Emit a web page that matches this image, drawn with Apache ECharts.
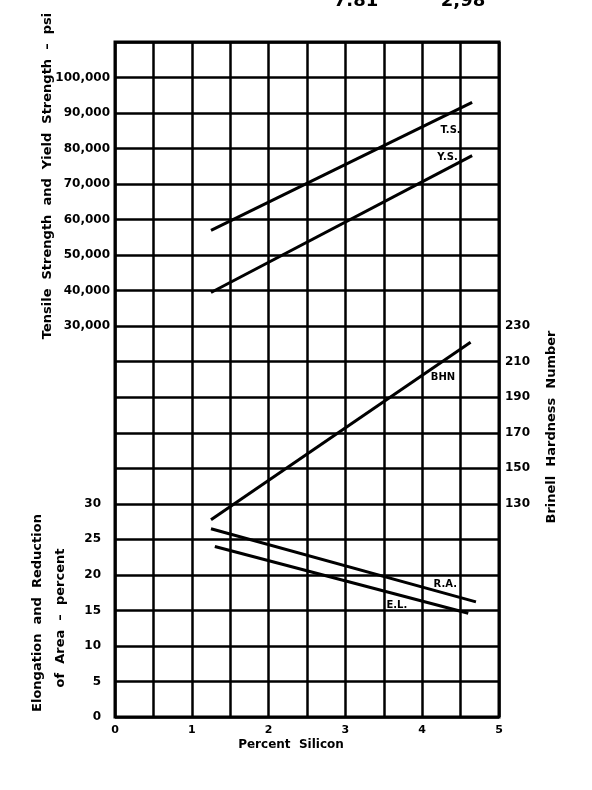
<!DOCTYPE html>
<html>
<head>
<meta charset="utf-8">
<script src="https://cdn.jsdelivr.net/npm/echarts@6/dist/echarts.min.js"></script>
<style>
html,body{margin:0;padding:0;background:#fff;}
#c{width:592px;height:790px;}
</style>
</head>
<body>
<div id="c"></div>
<script>
// ---- data ----
const silicon = [1.25, 4.65];
const tensileStrength = [57000, 93000];
const yieldStrength = [39500, 78000];
const bhnSilicon = [1.25, 4.63];
const brinell = [121, 221];
const raSilicon = [1.25, 4.7];
const reductionArea = [26.5, 16.2];
const elSilicon = [1.3, 4.6];
const elongation = [24, 14.6];
const xTicks = [0, 1, 2, 3, 4, 5];
const psiTicks = [30000, 40000, 50000, 60000, 70000, 80000, 90000, 100000];
const pctTicks = [0, 5, 10, 15, 20, 25, 30];
const bhnTicks = [130, 150, 170, 190, 210, 230];
const curveLabels = [
  {text: 'T.S.', x: 4.37, y: 85000, axis: 0},
  {text: 'Y.S.', x: 4.33, y: 77500, axis: 0},
  {text: 'BHN', x: 4.27, y: 201, axis: 2},
  {text: 'R.A.', x: 4.3, y: 18.6, axis: 1},
  {text: 'E.L.', x: 3.67, y: 15.7, axis: 1}
];

const FONT = 'DejaVu Sans';
const pair = (xs, ys) => xs.map((x, i) => [x, ys[i]]);
const tickFmt = (ticks, f) => v => ticks.includes(v) ? f(v) : '';

const chart = echarts.init(document.getElementById('c'), null, {renderer: 'canvas'});
const lineStyle = {color: '#000', width: 3};
const mkLine = (name, data, yi) => ({
  name, type: 'line', yAxisIndex: yi, data, symbol: 'none',
  lineStyle, silent: true, animation: false, z: 3
});

const labelSeries = [0, 1, 2].map(ai => ({
  type: 'scatter', yAxisIndex: ai, symbolSize: 0, animation: false, silent: true, z: 6,
  itemStyle: {color: '#000'},
  data: curveLabels.filter(l => l.axis === ai).map(l => ({value: [l.x, l.y], name: l.text})),
  label: {show: true, position: 'inside', formatter: p => p.name,
    fontFamily: FONT, fontWeight: 'bold', fontSize: 10, color: '#000',
    textBorderWidth: 0, textShadowBlur: 0, opacity: 1}
}));

const titleStyle = (text, size) => ({text, fontFamily: FONT, fontWeight: 'bold', fontSize: size,
  fill: '#000', textAlign: 'center', textVerticalAlign: 'middle'});

chart.setOption({
  backgroundColor: '#fff',
  animation: false,
  grid: {left: 115, right: 93, top: 42, bottom: 73, show: true,
    borderColor: '#000', borderWidth: 3, backgroundColor: 'transparent'},
  xAxis: {
    type: 'value', min: 0, max: 5, interval: 0.5,
    axisLine: {show: false}, axisTick: {show: false},
    splitLine: {show: true, lineStyle: {color: '#000', width: 2.5}},
    axisLabel: {formatter: tickFmt(xTicks, v => String(v)), fontFamily: FONT,
      fontWeight: 'bold', fontSize: 11, color: '#000', margin: 8}
  },
  yAxis: [
    {type: 'value', position: 'left', min: -80000, max: 110000, interval: 10000,
      axisLine: {show: false}, axisTick: {show: false},
      splitLine: {show: true, lineStyle: {color: '#000', width: 2.5}},
      axisLabel: {formatter: tickFmt(psiTicks, v => v.toLocaleString('en-US')),
        fontFamily: FONT, fontWeight: 'bold', fontSize: 12, color: '#000', margin: 5}},
    {type: 'value', position: 'left', min: 0, max: 95, interval: 5,
      axisLine: {show: false}, axisTick: {show: false}, splitLine: {show: false},
      axisLabel: {formatter: tickFmt(pctTicks, v => String(v)),
        fontFamily: FONT, fontWeight: 'bold', fontSize: 12, color: '#000', margin: 14}},
    {type: 'value', position: 'right', min: 10, max: 390, interval: 20,
      axisLine: {show: false}, axisTick: {show: false}, splitLine: {show: false},
      axisLabel: {formatter: tickFmt(bhnTicks, v => String(v)),
        fontFamily: FONT, fontWeight: 'bold', fontSize: 12, color: '#000', margin: 6}}
  ],
  series: [
    mkLine('T.S.', pair(silicon, tensileStrength), 0),
    mkLine('Y.S.', pair(silicon, yieldStrength), 0),
    mkLine('BHN', pair(bhnSilicon, brinell), 2),
    mkLine('R.A.', pair(raSilicon, reductionArea), 1),
    mkLine('E.L.', pair(elSilicon, elongation), 1),
    ...labelSeries
  ],
  graphic: [
    {type: 'text', x: 48, y: 176, rotation: Math.PI / 2,
      style: titleStyle('Tensile  Strength  and  Yield  Strength  \u2013  psi', 13)},
    {type: 'text', x: 38, y: 613, rotation: Math.PI / 2,
      style: titleStyle('Elongation  and  Reduction', 13)},
    {type: 'text', x: 61, y: 618, rotation: Math.PI / 2,
      style: titleStyle('of  Area  \u2013  percent', 13)},
    {type: 'text', x: 552, y: 427, rotation: Math.PI / 2,
      style: titleStyle('Brinell  Hardness  Number', 13)},
    {type: 'text', x: 291, y: 745, style: titleStyle('Percent  Silicon', 12)},
    {type: 'text', x: 356, y: 1, style: titleStyle('7.81', 18)},
    {type: 'text', x: 463, y: 1, style: titleStyle('2,98', 18)}
  ]
});
</script>
</body>
</html>
